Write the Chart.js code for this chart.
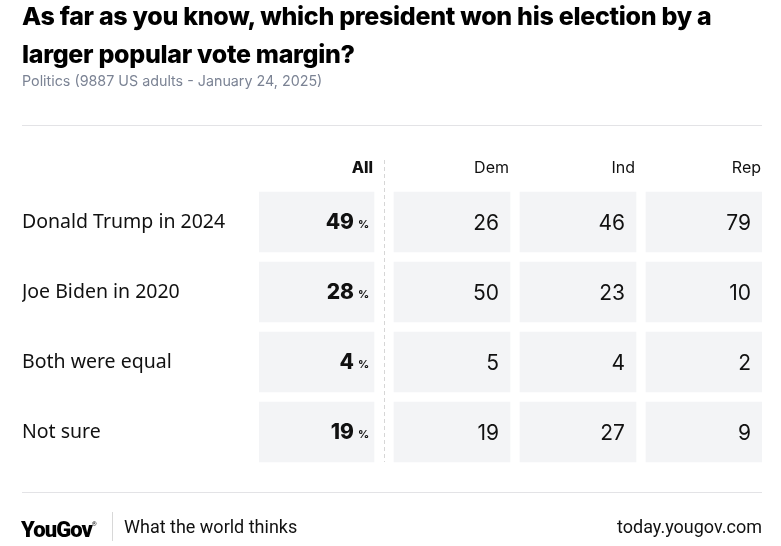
<!DOCTYPE html>
<html lang="en">
<head>
  <meta charset="UTF-8">
  <title>YouGov - popular vote margin</title>
  <script src="https://cdn.jsdelivr.net/npm/chart.js"></script>
  <style>
    body { margin: 0; background: #fff; }
    #wrap { position: relative; width: 781px; height: 546px; overflow: hidden; }
    #table { position: absolute; left: 0; top: 0; }
    .title {
      position: absolute; left: 22px; top: -3px; margin: 0; white-space: nowrap;
      font: 800 25px/38px Inter, sans-serif; color: #000; letter-spacing: -0.3px;
    }
    .sub {
      position: absolute; left: 22px; top: 72px;
      font: 400 14.3px/18px Inter, sans-serif; color: #7b8394;
    }
    .rule { position: absolute; left: 22px; width: 740px; height: 1px; background: #e3e3e6; }
    .foot { position: absolute; top: 512px; height: 30px; line-height: 30px; color: #111; }
    .logo { left: 21px; top: 509px; font: 900 22px/30px Roboto, sans-serif; letter-spacing: -0.9px; color: #000; }
    .logo sup { font-size: 6px; font-weight: 400; letter-spacing: 0; vertical-align: 11px; }
    .sep { position: absolute; left: 112px; top: 512px; width: 1px; height: 29px; background: #d8d8d8; }
    .tag { left: 124px; font: 400 18px/30px Roboto, sans-serif; }
    .url { right: 19px; font: 400 18px/30px Roboto, sans-serif; }
  </style>
</head>
<body>
<div id="wrap">
  <canvas id="table" width="781" height="546"></canvas>
  <h1 class="title">As far as you know, which president won his election by a<br>larger popular vote margin?</h1>
  <div class="sub">Politics (9887 US adults - January 24, 2025)</div>
  <div class="rule" style="top:125px"></div>
  <div class="rule" style="top:492px"></div>
  <div class="foot logo">YouGov<sup>®</sup></div>
  <div class="sep"></div>
  <div class="foot tag">What the world thinks</div>
  <div class="foot url">today.yougov.com</div>
</div>
<script>
  const rows = ['Donald Trump in 2024', 'Joe Biden in 2020', 'Both were equal', 'Not sure'];
  const columns = ['All', 'Dem', 'Ind', 'Rep'];
  const allValues = [49, 28, 4, 19];
  const demValues = [26, 50, 5, 19];
  const indValues = [46, 23, 4, 27];
  const repValues = [79, 10, 2, 9];

  // cell layout along the hidden x scale (pixels from the first cell's left edge)
  const colEdges = [[0, 115], [135, 251], [261, 377], [387, 503]];
  const cellGrey = '#f3f4f6';
  const ink = '#111';

  const seriesValues = [allValues, demValues, indValues, repValues];

  const datasets = columns.map((name, c) => ({
    label: name,
    data: rows.map(() => colEdges[c].slice()),
    values: seriesValues[c],
    backgroundColor: cellGrey,
    borderWidth: 0,
    barThickness: 60,
    grouped: false
  }));

  const tablePlugin = {
    id: 'tableText',
    afterDatasetsDraw(chart) {
      const ctx = chart.ctx;
      const xs = chart.scales.x;
      ctx.save();

      // dashed divider between All and the party columns
      const divX = Math.round((xs.getPixelForValue(colEdges[0][1]) + xs.getPixelForValue(colEdges[1][0])) / 2) + 0.5;
      ctx.strokeStyle = '#d6d6d6';
      ctx.lineWidth = 1;
      ctx.setLineDash([4, 3]);
      ctx.beginPath();
      ctx.moveTo(divX, 160);
      ctx.lineTo(divX, chart.chartArea.bottom - 5);
      ctx.stroke();
      ctx.setLineDash([]);

      // column headers
      ctx.textBaseline = 'middle';
      ctx.textAlign = 'right';
      ctx.fillStyle = ink;
      columns.forEach((name, c) => {
        ctx.font = (c === 0 ? '800 ' : '400 ') + '16px Inter, sans-serif';
        ctx.fillText(name, xs.getPixelForValue(colEdges[c][1]) - 1, 168);
      });

      // cell values
      chart.data.datasets.forEach((ds, c) => {
        const meta = chart.getDatasetMeta(c);
        meta.data.forEach((bar, r) => {
          const right = Math.max(bar.x, bar.base);
          const v = ds.values[r];
          ctx.textBaseline = 'alphabetic';
          if (c === 0) {
            ctx.font = '800 21px Inter, sans-serif';
            ctx.textAlign = 'right';
            ctx.fillText(String(v), right - 20, bar.y + 7);
            ctx.font = '700 11px Inter, sans-serif';
            ctx.textAlign = 'left';
            ctx.fillText('%', right - 16, bar.y + 6);
          } else {
            ctx.font = '400 21px Inter, sans-serif';
            ctx.textAlign = 'right';
            ctx.fillText(String(v), right - 11, bar.y + 8);
          }
        });
      });
      ctx.restore();
    }
  };

  new Chart(document.getElementById('table'), {
    type: 'bar',
    data: { labels: rows, datasets: datasets },
    options: {
      responsive: false,
      animation: false,
      events: [],
      indexAxis: 'y',
      layout: { padding: { left: 22, right: 19, top: 187, bottom: 79 } },
      plugins: { legend: { display: false }, tooltip: { enabled: false } },
      scales: {
        x: { type: 'linear', min: 0, max: 503, display: false },
        y: {
          type: 'category',
          grid: { display: false },
          border: { display: false },
          afterFit(scale) { scale.width = 237; },
          ticks: {
            crossAlign: 'far',
            padding: 0,
            color: ink,
            font: { family: '"Noto Sans", sans-serif', size: 19.5 }
          }
        }
      }
    },
    plugins: [tablePlugin]
  });
</script>
</body>
</html>
